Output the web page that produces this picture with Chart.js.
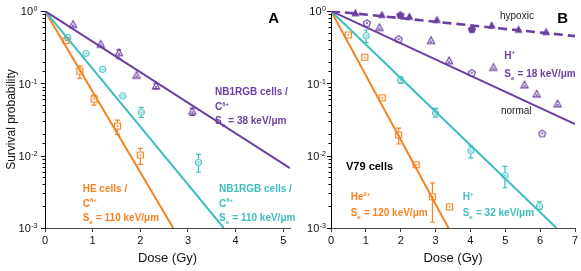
<!DOCTYPE html>
<html><head><meta charset="utf-8">
<script src="https://cdn.jsdelivr.net/npm/chart.js@4/dist/chart.umd.min.js"></script>
<style>
html,body{margin:0;padding:0;background:#fff;}
#wrap{position:relative;width:581px;height:271px;overflow:hidden;background:#fff;}
#cA{position:absolute;left:0;top:0;width:300px;height:271px;}
#cB{position:absolute;left:290px;top:0;width:291px;height:271px;}
</style></head><body>
<div id="wrap"><canvas id="cA" width="300" height="271"></canvas><canvas id="cB" width="291" height="271"></canvas></div>
<script>
// ---------- tick labels ----------
const xTicksA = [0, 1, 2, 3, 4, 5];
const xTicksB = [0, 1, 2, 3, 4, 5, 6, 7];
const yTickValues = [1, 0.1, 0.01, 0.001];
const yTickExponents = ['0', '-1', '-2', '-3'];

// ---------- Panel A data ----------
const aPurpleDose = [0.59, 1.17, 1.55, 1.92, 2.33, 3.09];
const aPurpleSurv = [0.65, 0.346, 0.265, 0.129, 0.092, 0.041];
const aPurpleErrLo = [null, null, 0.22, null, 0.084, 0.036];
const aPurpleErrHi = [null, null, 0.29, null, 0.100, 0.045];

const aTealDose = [0.475, 0.86, 1.21, 1.63, 2.02, 3.22];
const aTealSurv = [0.43, 0.26, 0.156, 0.067, 0.040, 0.0081];
const aTealErrLo = [null, null, null, null, 0.0339, 0.0059];
const aTealErrHi = [null, null, null, null, 0.0466, 0.0104];

const aOrangeDose = [0.44, 0.73, 1.03, 1.52, 2.0];
const aOrangeSurv = [0.39, 0.148, 0.0607, 0.0257, 0.0102];
const aOrangeErrLo = [null, 0.117, 0.050, 0.0197, 0.0076];
const aOrangeErrHi = [null, 0.173, 0.0686, 0.031, 0.0126];

const aFitPurple = [[0, 1], [5.14, 0.0067]];
const aFitTeal = [[0, 1], [3.75, 0.001]];
const aFitOrange = [[0, 1], [2.69, 0.001]];

// ---------- Panel B data ----------
const bNormTriDose = [1.39, 2.87, 3.39, 4.66, 5.55, 5.9, 6.5];
const bNormTriSurv = [0.59, 0.39, 0.205, 0.166, 0.095, 0.071, 0.052];
const bNormPentDose = [1.03, 1.94, 4.04, 6.06];
const bNormPentSurv = [0.68, 0.41, 0.14, 0.0203];
const bHypTriDose = [0.7, 1.46, 2.25, 3.04, 4.61, 5.38, 6.17];
const bHypTriSurv = [0.93, 0.88, 0.83, 0.75, 0.63, 0.55, 0.51];
const bHypPentDose = [1.99, 4.04];
const bHypPentSurv = [0.88, 0.56];

const bTealDose = [1.01, 2.0, 3.0, 4.01, 4.99, 5.98];
const bTealSurv = [0.456, 0.111, 0.039, 0.0117, 0.0053, 0.002];
const bTealErrLo = [0.365, 0.1, 0.034, 0.0093, 0.0036, 0.0018];
const bTealErrHi = [0.546, 0.123, 0.045, 0.0136, 0.0071, 0.0023];

const bOrangeDose = [0.5, 0.97, 1.47, 1.94, 2.44, 2.91, 3.4];
const bOrangeSurv = [0.466, 0.229, 0.063, 0.0193, 0.0075, 0.0027, 0.00196];
const bOrangeErrLo = [null, null, null, 0.0145, null, 0.0012, null];
const bOrangeErrHi = [null, null, null, 0.024, null, 0.0042, null];

const bFitNormal = [[0, 1], [7, 0.0273]];
const bFitHypoxic = [[0, 1], [7, 0.45]];
const bFitOrange = [[0, 1], [3.37, 0.001]];
const bFitTeal = [[0, 1], [6.47, 0.001]];

// ---------- styling ----------
const PURPLE = '#6a3fa0', TEAL = '#3dbdbd', ORANGE = '#f5821f';
const FONT = '"Liberation Sans", Arial, Helvetica, sans-serif';
Chart.defaults.font.family = FONT;

function makeMarker(shape, color, filled, size) {
  const c = document.createElement('canvas');
  const n = size + 5;
  c.width = n; c.height = n;
  const g = c.getContext('2d');
  g.translate(n / 2, n / 2);
  g.strokeStyle = color; g.fillStyle = color; g.lineWidth = 1.2;
  g.beginPath();
  const r = size / 2;
  if (shape === 'tri') {
    g.moveTo(0, -r * 1.05); g.lineTo(r, r * 0.8); g.lineTo(-r, r * 0.8); g.closePath();
  } else if (shape === 'circle') {
    g.arc(0, 0, r, 0, Math.PI * 2);
  } else if (shape === 'square') {
    g.rect(-r, -r, size, size);
  } else if (shape === 'pent') {
    for (let i = 0; i < 5; i++) {
      const a = -Math.PI / 2 + i * 2 * Math.PI / 5;
      const px = Math.cos(a) * r * 1.05, py = Math.sin(a) * r * 1.05 + 0.3;
      if (i === 0) g.moveTo(px, py); else g.lineTo(px, py);
    }
    g.closePath();
  }
  if (filled) { g.fill(); g.stroke(); }
  else {
    g.stroke();
    g.beginPath(); g.arc(0, shape === 'tri' ? 1 : 0, 1, 0, Math.PI * 2); g.fill();
  }
  return c;
}

function pts(xs, ys) { return xs.map((x, i) => ({ x: x, y: ys[i] })); }
function pairs(arr) { return arr.map(p => ({ x: p[0], y: p[1] })); }

function scatterSet(xs, ys, marker, lo, hi, color) {
  return { type: 'scatter', data: pts(xs, ys), pointStyle: marker, pointRadius: 4,
    borderWidth: 0, backgroundColor: color, borderColor: color, order: 1,
    errLo: lo || null, errHi: hi || null, errColor: color, clip: false };
}
function lineSet(arr, color, width, dash) {
  return { type: 'line', data: pairs(arr), borderColor: color, borderWidth: width,
    borderDash: dash || [], pointRadius: 0, fill: false, tension: 0, order: 2, showLine: true };
}

function drawRich(ctx, x, y, segs, size, weight, color) {
  let cx = x;
  ctx.fillStyle = color; ctx.textAlign = 'left'; ctx.textBaseline = 'alphabetic';
  for (const s of segs) {
    const t = s[0], k = s[1];
    let fs = size, dy = 0;
    if (k === 'sup') { fs = Math.round(size * 0.62); dy = -size * 0.42; }
    else if (k === 'sub') { fs = Math.round(size * 0.62); dy = size * 0.3; }
    ctx.font = weight + ' ' + fs + 'px ' + FONT;
    ctx.fillText(t, cx, y + dy);
    cx += ctx.measureText(t).width + (k === 'sub' ? 0.5 : 0);
  }
}

const errorBarPlugin = {
  id: 'errbars',
  afterDatasetsDraw(chart) {
    const ctx = chart.ctx, ys = chart.scales.y, xs = chart.scales.x;
    ctx.save();
    chart.data.datasets.forEach(ds => {
      if (!ds.errLo) return;
      ctx.strokeStyle = ds.errColor; ctx.lineWidth = 1.2;
      ds.data.forEach((p, i) => {
        const lo = ds.errLo[i], hi = ds.errHi[i];
        if (lo == null) return;
        const px = xs.getPixelForValue(p.x), py = ys.getPixelForValue(p.y);
        const yl = ys.getPixelForValue(lo), yh = ys.getPixelForValue(hi);
        ctx.beginPath();
        if (yh < py - 3.5) { ctx.moveTo(px, yh); ctx.lineTo(px, py - 3.5); }
        if (yl > py + 3.5) { ctx.moveTo(px, py + 3.5); ctx.lineTo(px, yl); }
        ctx.moveTo(px - 2.5, yh); ctx.lineTo(px + 2.5, yh);
        ctx.moveTo(px - 2.5, yl); ctx.lineTo(px + 2.5, yl);
        ctx.stroke();
      });
    });
    ctx.restore();
  }
};

const logAxisPlugin = {
  id: 'logAxis',
  afterDraw(chart, args, opts) {
    const ctx = chart.ctx, ys = chart.scales.y, left = chart.chartArea.left;
    ctx.save();
    ctx.strokeStyle = '#000'; ctx.lineWidth = 1;
    ys.ticks.forEach(t => {
      const v = t.value, lg = Math.log10(v);
      const major = Math.abs(lg - Math.round(lg)) < 1e-6;
      const p = Math.round(ys.getPixelForValue(v)) + 0.5;
      const len = major ? 4 : 2.5;
      ctx.beginPath(); ctx.moveTo(left - len, p); ctx.lineTo(left, p); ctx.stroke();
    });
    ctx.fillStyle = '#111'; ctx.textBaseline = 'alphabetic'; ctx.textAlign = 'left';
    yTickValues.forEach((v, i) => {
      const p = ys.getPixelForValue(v);
      const exp = yTickExponents[i];
      ctx.font = '7px ' + FONT;
      const ew = ctx.measureText(exp).width;
      ctx.font = '11px ' + FONT;
      const bw = ctx.measureText('10').width;
      const right = left - opts.gap;
      ctx.font = '11px ' + FONT;
      ctx.fillText('10', right - ew - bw - 0.5, p + 4.3);
      ctx.font = '7px ' + FONT;
      ctx.fillText(exp, right - ew, p + 0.3);
    });
    ctx.restore();
  }
};

const textPlugin = {
  id: 'texts',
  afterDraw(chart, args, opts) {
    const ctx = chart.ctx;
    ctx.save();
    (opts.items || []).forEach(it => drawRich(ctx, it.x, it.y, it.segs, it.size, it.weight, it.color));
    ctx.restore();
  }
};

function makeChart(id, datasets, xmax, xticks, yWidth, padRight, showYTitle, gap, texts) {
  return new Chart(document.getElementById(id), {
    data: { datasets: datasets },
    options: {
      responsive: false, animation: false, events: [],
      layout: { padding: { top: 11, right: padRight, left: 0, bottom: 0 } },
      plugins: { legend: { display: false }, tooltip: { enabled: false },
        logAxis: { gap: gap }, texts: { items: texts } },
      scales: {
        x: { type: 'linear', position: 'bottom', min: 0, max: xmax,
          afterBuildTicks: s => { s.ticks = xticks.map(v => ({ value: v })); },
          afterFit: s => { s.height = 43; },
          grid: { display: true, drawOnChartArea: false, drawTicks: true, tickLength: 4, tickColor: '#444', tickWidth: 1 },
          border: { display: true, color: '#444', width: 1 },
          ticks: { font: { size: 11 }, color: '#111', padding: 2, maxRotation: 0, autoSkip: false },
          title: { display: true, text: 'Dose (Gy)', font: { size: 13 }, color: '#111', padding: { top: 0, bottom: 5 } } },
        y: { type: 'logarithmic', position: 'left', min: 0.001, max: 1,
          afterFit: s => { s.width = yWidth; },
          grid: { display: false },
          border: { display: true, color: '#000', width: 1 },
          ticks: { display: false },
          title: { display: showYTitle, text: 'Survival probability', font: { size: 12 }, color: '#111', padding: { top: 4, bottom: 4 } } }
      }
    },
    plugins: [errorBarPlugin, logAxisPlugin, textPlugin]
  });
}

function C(s) { return s; }
// ---------- Panel A ----------
const dsA = [
  lineSet(aFitPurple, PURPLE, 2),
  lineSet(aFitTeal, TEAL, 2),
  lineSet(aFitOrange, ORANGE, 2),
  scatterSet(aPurpleDose, aPurpleSurv, makeMarker('tri', PURPLE, false, 7), aPurpleErrLo, aPurpleErrHi, PURPLE),
  scatterSet(aTealDose, aTealSurv, makeMarker('circle', TEAL, false, 6), aTealErrLo, aTealErrHi, TEAL),
  scatterSet(aOrangeDose, aOrangeSurv, makeMarker('square', ORANGE, false, 6), aOrangeErrLo, aOrangeErrHi, ORANGE)
];
const B10 = 10;
const textsA = [
  { x: 268.3, y: 22.7, segs: [['A', '']], size: 15, weight: 'bold', color: '#000' },
  { x: 215, y: 95, segs: [['NB1RGB cells /', '']], size: B10, weight: 'bold', color: PURPLE },
  { x: 215, y: 110, segs: [['C', ''], ['6+', 'sup']], size: B10, weight: 'bold', color: PURPLE },
  { x: 215, y: 124, segs: [['S', ''], ['e', 'sub'], [' = 38 keV/\u03bcm', '']], size: B10, weight: 'bold', color: PURPLE },
  { x: 82.7, y: 192, segs: [['HE cells /', '']], size: B10, weight: 'bold', color: ORANGE },
  { x: 82.7, y: 206.5, segs: [['C', ''], ['6+', 'sup']], size: B10, weight: 'bold', color: ORANGE },
  { x: 82.7, y: 220.5, segs: [['S', ''], ['e', 'sub'], [' = 110 keV/\u03bcm', '']], size: B10, weight: 'bold', color: ORANGE },
  { x: 219, y: 192, segs: [['NB1RGB cells /', '']], size: B10, weight: 'bold', color: TEAL },
  { x: 219, y: 206.5, segs: [['C', ''], ['6+', 'sup']], size: B10, weight: 'bold', color: TEAL },
  { x: 219, y: 220.5, segs: [['S', ''], ['e', 'sub'], [' = 110 keV/\u03bcm', '']], size: B10, weight: 'bold', color: TEAL }
];
makeChart('cA', dsA, 5.14, xTicksA, 45, 10, true, 7.5, textsA);

// ---------- Panel B ----------
const OX = 290;
const dsB = [
  lineSet(bFitHypoxic, PURPLE, 2.6, [9, 5]),
  lineSet(bFitNormal, PURPLE, 2),
  lineSet(bFitTeal, TEAL, 2),
  lineSet(bFitOrange, ORANGE, 2),
  scatterSet(bHypTriDose, bHypTriSurv, makeMarker('tri', PURPLE, true, 6)),
  scatterSet(bHypPentDose, bHypPentSurv, makeMarker('pent', PURPLE, true, 7)),
  scatterSet(bNormTriDose, bNormTriSurv, makeMarker('tri', PURPLE, false, 7)),
  scatterSet(bNormPentDose, bNormPentSurv, makeMarker('pent', PURPLE, false, 7)),
  scatterSet(bTealDose, bTealSurv, makeMarker('circle', TEAL, false, 6), bTealErrLo, bTealErrHi, TEAL),
  scatterSet(bOrangeDose, bOrangeSurv, makeMarker('square', ORANGE, false, 6), bOrangeErrLo, bOrangeErrHi, ORANGE)
];
const textsB = [
  { x: 557.3 - OX, y: 22.7, segs: [['B', '']], size: 15, weight: 'bold', color: '#000' },
  { x: 500 - OX, y: 18.5, segs: [['hypoxic', '']], size: 10, weight: 'normal', color: '#222' },
  { x: 504.3 - OX, y: 58.5, segs: [['H', ''], ['+', 'sup']], size: B10, weight: 'bold', color: PURPLE },
  { x: 504.3 - OX, y: 76.5, segs: [['S', ''], ['e', 'sub'], [' = 18 keV/\u03bcm', '']], size: B10, weight: 'bold', color: PURPLE },
  { x: 501 - OX, y: 114, segs: [['normal', '']], size: 10, weight: 'normal', color: '#222' },
  { x: 346 - OX, y: 170, segs: [['V79 cells', '']], size: 11, weight: 'bold', color: '#000' },
  { x: 350.7 - OX, y: 200, segs: [['He', ''], ['2+', 'sup']], size: B10, weight: 'bold', color: ORANGE },
  { x: 350.7 - OX, y: 216, segs: [['S', ''], ['e', 'sub'], [' = 120 keV/\u03bcm', '']], size: B10, weight: 'bold', color: ORANGE },
  { x: 462.7 - OX, y: 200, segs: [['H', ''], ['+', 'sup']], size: B10, weight: 'bold', color: TEAL },
  { x: 462.7 - OX, y: 216, segs: [['S', ''], ['e', 'sub'], [' = 32 keV/\u03bcm', '']], size: B10, weight: 'bold', color: TEAL }
];
makeChart('cB', dsB, 7, xTicksB, 41, 6, false, 5, textsB);
</script>
</body></html>
